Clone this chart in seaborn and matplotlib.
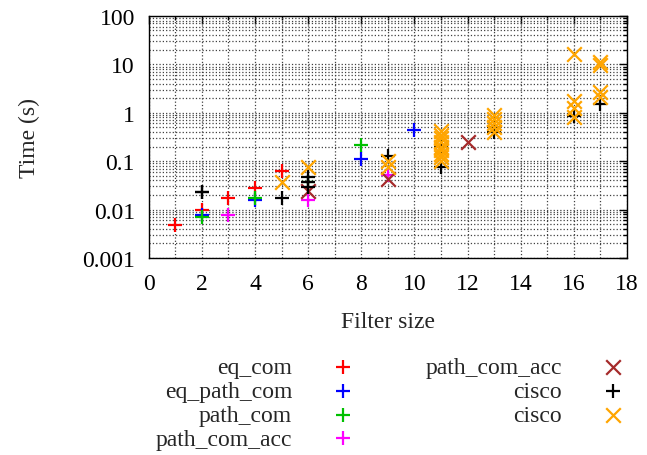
import matplotlib
matplotlib.use("Agg")
import matplotlib.pyplot as plt
import matplotlib.ticker as mticker
import seaborn as sns

# -----------------------------
# Data
# -----------------------------
eq_com_x = [1, 2, 3, 4, 5]
eq_com_y = [0.0048, 0.0098, 0.0174, 0.0275, 0.062]

eq_path_com_x = [2, 4, 8, 10]
eq_path_com_y = [0.0079, 0.0158, 0.111, 0.447]

path_com_x = [2, 4, 6, 8]
path_com_y = [0.0069, 0.0174, 0.037, 0.216]

path_com_acc_x = [3, 6, 9]
path_com_acc_y = [0.0077, 0.016, 0.052]

path_com_acc2_x = [6, 9, 12]
path_com_acc2_y = [0.0246, 0.043, 0.246]

cisco_x = [2, 2, 5, 6, 6, 6, 9, 11, 11, 13, 13, 16, 17]
cisco_y = [0.0228, 0.0235, 0.0174, 0.046, 0.037, 0.029, 0.13, 0.076, 0.2, 0.4, 0.5, 0.85, 1.52]

cisco2_x = [5, 6, 9, 9,
            11, 11, 11, 11, 11, 11, 11, 11, 11,
            13, 13, 13, 13, 13,
            16, 16, 16, 16, 17, 17, 17, 17]
cisco2_y = [0.0367, 0.075, 0.103, 0.075,
            0.42, 0.35, 0.3, 0.25, 0.2, 0.17, 0.14, 0.12, 0.1,
            0.9, 0.75, 0.6, 0.5, 0.4,
            16.4, 1.78, 1.24, 0.81, 11.0, 9.6, 2.73, 2.09]

series = [
    ("eq_com", eq_com_x, eq_com_y, "+", "#ff0000"),
    ("eq_path_com", eq_path_com_x, eq_path_com_y, "+", "#0000ff"),
    ("path_com", path_com_x, path_com_y, "+", "#00c000"),
    ("path_com_acc", path_com_acc_x, path_com_acc_y, "+", "#ff00ff"),
    ("path_com_acc", path_com_acc2_x, path_com_acc2_y, "x", "#a52a2a"),
    ("cisco", cisco_x, cisco_y, "+", "#000000"),
    ("cisco", cisco2_x, cisco2_y, "x", "#ffa500"),
]

# -----------------------------
# Style
# -----------------------------
sns.set_theme(style="white")
plt.rcParams["font.family"] = ["Liberation Serif", "DejaVu Serif"]
plt.rcParams["font.size"] = 17

fig = plt.figure(figsize=(6.47, 4.56), dpi=100)
ax = fig.add_axes([0.230, 0.432, 0.739, 0.531])

for label, xs, ys, mk, col in series:
    sns.scatterplot(
        x=xs, y=ys, ax=ax,
        marker=mk, color=col, s=110, linewidth=1.6,
        label=label, legend=False
    )

ax.set_yscale("log")
ax.set_ylim(0.001, 100)
ax.set_xlim(0, 18)

ax.xaxis.set_major_locator(mticker.MultipleLocator(2))
ax.xaxis.set_minor_locator(mticker.MultipleLocator(1))
ax.yaxis.set_major_locator(mticker.LogLocator(base=10))
ax.yaxis.set_minor_locator(mticker.LogLocator(base=10, subs=range(2, 10)))
ax.yaxis.set_minor_formatter(mticker.NullFormatter())
ax.yaxis.set_major_formatter(mticker.FuncFormatter(lambda v, p: f"{v:g}"))

ax.grid(True, which="both", linestyle=":", color="0.25", linewidth=0.9)
ax.tick_params(which="both", direction="in", top=True, right=True,
               colors="black", labelsize=17)
ax.tick_params(which="major", length=6, width=1)
ax.tick_params(which="minor", length=3, width=1)
ax.tick_params(axis="x", which="major", pad=11)
ax.tick_params(axis="y", which="major", pad=10)
for sp in ax.spines.values():
    sp.set_color("black")
    sp.set_linewidth(1)

ax.set_xlabel("Filter size", fontsize=17, labelpad=12)
ax.set_ylabel("Time (s)", fontsize=17, labelpad=30)

# legend below the plot, labels right-aligned, marker after label
handles, labels = ax.get_legend_handles_labels()
fig.legend(
    handles, labels, ncol=2, markerfirst=False, frameon=False,
    loc="upper center", bbox_to_anchor=(0.601, 0.242),
    fontsize=17, labelspacing=0.1, handletextpad=1.75,
    columnspacing=3.1, handlelength=0.8, borderpad=0
)

fig.savefig("out.png", dpi=100)
